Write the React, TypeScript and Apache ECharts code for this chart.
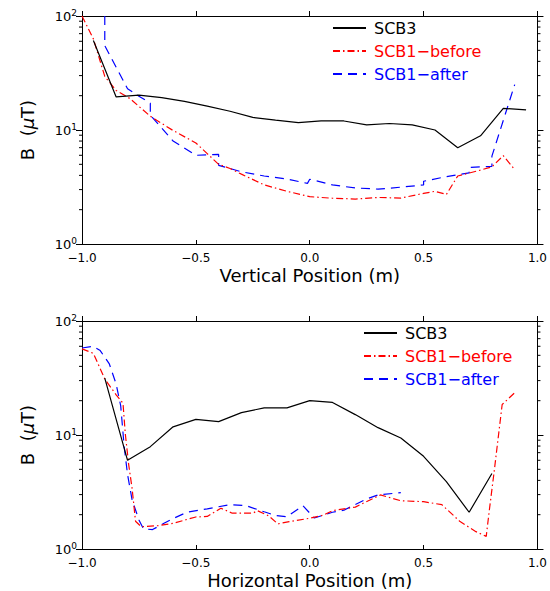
import React, { useEffect, useRef } from "react";
import * as echarts from "echarts";

const FONT = '"DejaVu Sans", sans-serif';
const WEIGHT = "normal";

const X_TICK_MIN = -1;
const X_TICK_MAX = 1;
const X_TICK_STEP = 0.5;
const Y_MIN = 1;
const Y_MAX = 100;
const MINOR_TICKS = [2, 3, 4, 5, 6, 7, 8, 9, 20, 30, 40, 50, 60, 70, 80, 90];

const SERIES_NAMES = ["SCB3", "SCB1\u2212before", "SCB1\u2212after"];
const SERIES_COLORS = ["#000000", "#ff0000", "#0000ff"];

// Top panel: vertical position
const TOP_SCB3: [number, number][] = [
  [-0.95, 61], [-0.85, 19.5], [-0.75, 20.2], [-0.65, 19.2], [-0.55, 17.8],
  [-0.45, 16.2], [-0.35, 14.6], [-0.25, 12.9], [-0.15, 12.2], [-0.05, 11.6],
  [0.05, 12.0], [0.15, 12.0], [0.25, 11.1], [0.35, 11.4], [0.45, 11.1],
  [0.55, 10.0], [0.65, 7.0], [0.75, 8.9], [0.85, 15.5], [0.95, 15.0],
];
const TOP_BEFORE: [number, number][] = [
  [-1.0, 100], [-0.95, 63], [-0.9, 29.5], [-0.85, 22.2], [-0.79, 18.9],
  [-0.7, 13.2], [-0.6, 9.9], [-0.5, 7.7], [-0.45, 6.2], [-0.4, 5.0],
  [-0.35, 4.6], [-0.3, 4.1], [-0.2, 3.3], [-0.1, 2.9], [0.0, 2.6],
  [0.1, 2.52], [0.2, 2.48], [0.3, 2.56], [0.4, 2.53], [0.5, 2.78],
  [0.55, 2.9], [0.6, 2.72], [0.65, 3.95], [0.75, 4.45], [0.8, 4.75],
  [0.85, 5.95], [0.9, 4.5],
];
const TOP_AFTER: [number, number][] = [
  [-0.9, 100], [-0.9, 55], [-0.8, 23], [-0.75, 19.8], [-0.7, 17.2],
  [-0.7, 13.5], [-0.6, 8.0], [-0.5, 6.0], [-0.4, 6.1], [-0.4, 4.9],
  [-0.3, 4.3], [-0.2, 3.95], [-0.1, 3.72], [-0.01, 3.4], [0.0, 3.7],
  [0.1, 3.3], [0.2, 3.1], [0.3, 3.03], [0.4, 3.15], [0.5, 3.3],
  [0.5, 3.55], [0.6, 3.9], [0.7, 4.2], [0.7, 4.7], [0.8, 4.8],
  [0.8, 5.9], [0.9, 25],
];

// Bottom panel: horizontal position
const BOTTOM_SCB3: [number, number][] = [
  [-0.9, 31.5], [-0.8, 6.0], [-0.7, 7.9], [-0.6, 11.8], [-0.5, 13.7],
  [-0.4, 13.1], [-0.3, 15.7], [-0.2, 17.3], [-0.1, 17.3], [0.0, 20.0],
  [0.1, 19.3], [0.2, 15.1], [0.3, 11.6], [0.4, 9.4], [0.5, 6.5],
  [0.6, 3.9], [0.7, 2.1], [0.8, 4.6],
];
const BOTTOM_BEFORE: [number, number][] = [
  [-1.0, 57], [-0.95, 52], [-0.9, 31], [-0.85, 22.5], [-0.82, 19],
  [-0.81, 10.3], [-0.795, 5.5], [-0.78, 3.4], [-0.765, 1.75], [-0.74, 1.57],
  [-0.67, 1.6], [-0.6, 1.68], [-0.5, 1.91], [-0.45, 1.93], [-0.39, 2.28],
  [-0.34, 2.06], [-0.25, 2.06], [-0.23, 2.17], [-0.18, 1.95], [-0.14, 1.66],
  [-0.09, 1.74], [0.0, 1.86], [0.06, 1.98], [0.1, 2.17], [0.2, 2.33],
  [0.31, 2.98], [0.4, 2.65], [0.5, 2.6], [0.58, 2.45], [0.66, 1.74],
  [0.73, 1.42], [0.775, 1.29], [0.79, 2.3], [0.81, 4.8], [0.845, 18.5],
  [0.9, 23.5],
];
const BOTTOM_AFTER: [number, number][] = [
  [-1.0, 58], [-0.95, 60], [-0.92, 55], [-0.88, 42], [-0.85, 28],
  [-0.83, 18], [-0.815, 8], [-0.8, 4.5], [-0.78, 2.7], [-0.75, 1.8],
  [-0.73, 1.5], [-0.69, 1.48], [-0.64, 1.68], [-0.6, 1.85], [-0.54, 2.1],
  [-0.45, 2.25], [-0.35, 2.45], [-0.28, 2.4], [-0.2, 2.12], [-0.15, 1.97],
  [-0.1, 1.92], [-0.03, 2.4], [0.02, 1.87], [0.1, 2.1], [0.15, 2.19],
  [0.25, 2.75], [0.3, 2.98], [0.4, 3.12],
];

const PANELS = [
  { title: "Vertical Position (m)", data: [TOP_SCB3, TOP_BEFORE, TOP_AFTER] },
  { title: "Horizontal Position (m)", data: [BOTTOM_SCB3, BOTTOM_BEFORE, BOTTOM_AFTER] },
];

const LINE_TYPES: any[] = ["solid", [7, 3, 1.5, 3], [9, 6]];

function fmtX(v: number) {
  const s = Math.abs(v).toFixed(1);
  return (v < -1e-9 ? "\u2212" : "") + s;
}

export default function App() {
  const ref = useRef<HTMLDivElement>(null);
  useEffect(() => {
    if (!ref.current) return;
    const chart = echarts.init(ref.current, undefined, { renderer: "svg" });
    const grids = [
      { left: 82, right: 12, top: 16, height: 228 },
      { left: 82, right: 12, top: 321, height: 228 },
    ];
    const xAxes: any[] = [];
    const yAxes: any[] = [];
    const series: any[] = [];
    PANELS.forEach((p, i) => {
      xAxes.push({
        type: "value", gridIndex: i, min: X_TICK_MIN, max: X_TICK_MAX, interval: X_TICK_STEP,
        name: p.title, nameLocation: "middle", nameGap: 31,
        nameTextStyle: { fontFamily: FONT, fontWeight: WEIGHT, fontSize: 18, color: "#000", verticalAlign: "middle" },
        axisLine: { show: true, onZero: false, lineStyle: { color: "#000", width: 1 } },
        axisTick: { show: true, inside: true, length: 4, lineStyle: { color: "#000", width: 1 } },
        axisLabel: { formatter: fmtX, fontFamily: FONT, fontWeight: WEIGHT, fontSize: 12, color: "#000", margin: 8 },
        splitLine: { show: false },
      });
      xAxes.push({
        type: "value", gridIndex: i, position: "top", min: X_TICK_MIN, max: X_TICK_MAX, interval: X_TICK_STEP,
        axisLine: { show: true, onZero: false, lineStyle: { color: "#000", width: 1 } },
        axisTick: { show: true, inside: false, length: 5, lineStyle: { color: "#000", width: 1 } },
        axisLabel: { show: false },
        splitLine: { show: false },
      });
      yAxes.push({
        type: "log", logBase: 10, gridIndex: i, min: Y_MIN, max: Y_MAX,
        name: "B  ({mu|\u03bc}T)", nameLocation: "middle", nameGap: 55,
        nameTextStyle: {
          fontFamily: FONT, fontWeight: WEIGHT, fontSize: 18, color: "#000", verticalAlign: "middle",
          rich: { mu: { fontFamily: FONT, fontWeight: WEIGHT, fontSize: 18, color: "#000", fontStyle: "italic" } },
        },
        axisLine: { show: true, onZero: false, lineStyle: { color: "#000", width: 1 } },
        axisTick: { show: true, inside: false, length: 6, lineStyle: { color: "#000", width: 1 } },
        axisLabel: {
          formatter: (v: number) => "10{sup|" + Math.round(Math.log10(v)) + "}",
          fontFamily: FONT, fontWeight: WEIGHT, fontSize: 13, color: "#000", margin: 5,
          rich: { sup: { fontFamily: FONT, fontWeight: WEIGHT, fontSize: 9, color: "#000", padding: [0, 0, 7, 0] } },
        },
        splitLine: { show: false },
      });
      yAxes.push({
        type: "log", logBase: 10, gridIndex: i, position: "right", min: Y_MIN, max: Y_MAX,
        axisLine: { show: true, onZero: false, lineStyle: { color: "#000", width: 1 } },
        axisTick: { show: true, inside: false, length: 6, lineStyle: { color: "#000", width: 1 } },
        axisLabel: { show: false },
        splitLine: { show: false },
      });
      p.data.forEach((d, k) => {
        series.push({
          type: "line", name: SERIES_NAMES[k], xAxisIndex: i * 2, yAxisIndex: i * 2,
          data: d, symbol: "none", showSymbol: false, clip: true,
          lineStyle: { color: SERIES_COLORS[k], width: 1.2, type: LINE_TYPES[k] },
          itemStyle: { color: SERIES_COLORS[k] },
          z: 3 - k,
        });
      });
      series.push({
        type: "custom", xAxisIndex: i * 2, yAxisIndex: i * 2, silent: true,
        data: MINOR_TICKS.map((v) => [X_TICK_MIN, v]),
        renderItem: (_params: any, api: any) => {
          const v = api.value(1);
          const l = api.coord([X_TICK_MIN, v]);
          const r = api.coord([X_TICK_MAX, v]);
          return {
            type: "group",
            children: [
              { type: "line", shape: { x1: l[0] - 3, y1: l[1], x2: l[0], y2: l[1] }, style: { stroke: "#000", lineWidth: 1 } },
              { type: "line", shape: { x1: r[0], y1: r[1], x2: r[0] + 3, y2: r[1] }, style: { stroke: "#000", lineWidth: 1 } },
            ],
          };
        },
      });
    });
    const legendData = SERIES_NAMES.map((n, k) => ({ name: n, textStyle: { color: SERIES_COLORS[k] } }));
    const legendBase = {
      orient: "vertical", itemWidth: 33, itemHeight: 14, itemGap: 7, padding: 0,
      selectedMode: false, data: legendData,
      itemStyle: { opacity: 0, borderWidth: 0 },
      textStyle: { fontFamily: FONT, fontWeight: WEIGHT, fontSize: 16, padding: [0, 0, 0, 3] },
    };
    chart.setOption({
      animation: false,
      backgroundColor: "#ffffff",
      grid: grids,
      xAxis: xAxes,
      yAxis: yAxes,
      legend: [
        { ...legendBase, left: 332, top: 20 },
        { ...legendBase, left: 363, top: 325 },
      ],
      series,
    });
    return () => chart.dispose();
  }, []);
  return (
    <div
      ref={ref}
      style={{ position: "absolute", left: 0, top: 0, width: 550, height: 591 }}
    />
  );
}
